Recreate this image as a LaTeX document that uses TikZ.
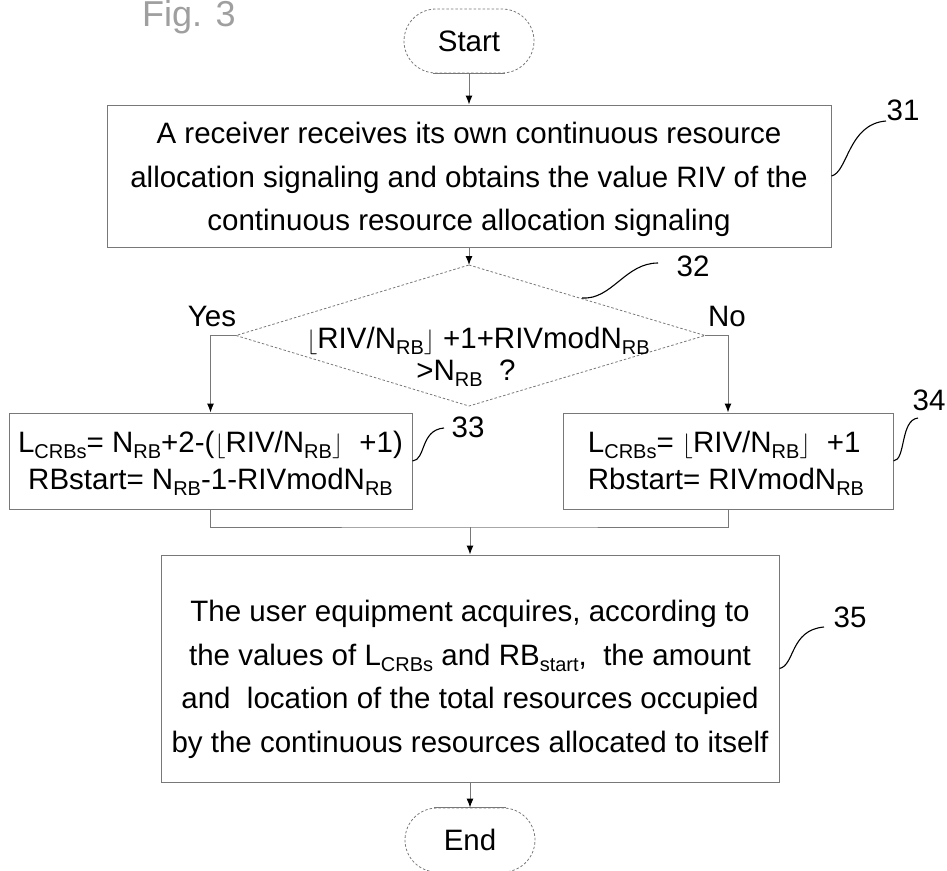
\documentclass[tikz,border=0pt]{standalone}
\usepackage{fontspec}
\setmainfont{Liberation Sans}
\usetikzlibrary{arrows.meta,shapes.misc}
\definecolor{ln}{RGB}{120,120,120}
\newcommand{\sbx}[1]{\raisebox{-0.22em}{\fontsize{20}{20}\selectfont #1}}
\newcommand{\flo}{\(\lfloor\)}
\newcommand{\flc}{\(\rfloor\)}
\begin{document}
\begin{tikzpicture}[x=1pt,y=-1pt,
  box/.style={draw=ln,line width=1pt,inner sep=0pt},
  txt/.style={font=\fontsize{29.5}{43.5}\selectfont,align=center,inner sep=0pt},
  txtb/.style={font=\fontsize{29.5}{37}\selectfont,align=center,inner sep=0pt},
  lbl/.style={font=\fontsize{29.5}{34}\selectfont,inner sep=0pt},
  conn/.style={draw=ln,line width=1pt},
  arr/.style={conn,-{Latex[length=9pt,width=7pt,color=black]}},
  term/.style={rounded rectangle,draw=ln,dash pattern=on 2.5pt off 2pt,line width=0.8pt,minimum width=130pt,minimum height=64pt,inner sep=0pt,font=\fontsize{29.5}{34}\selectfont},
  squig/.style={draw=black,line width=1.1pt}]
\useasboundingbox (0,0) rectangle (947,870);

% title
\node[font=\fontsize{36}{36}\selectfont,text=gray!75,anchor=base west,inner sep=0pt] (fig) at (142,27) {Fig. 3};

% terminals
\node[term] (start) at (469,41) {Start};
\node[term] (end) at (470,840) {End};
\draw[ln,line width=0.9pt] ([xshift=-36pt]start.south) -- ([xshift=36pt]start.south);
\draw[ln,line width=0.9pt] ([xshift=-36pt]end.north) -- ([xshift=36pt]end.north);

% box 31
\node[box,minimum width=724pt,minimum height=142pt] (b31) at (469,176) {};
\node[txt] (t31) at (469,179.5) {A receiver receives its own continuous resource\\allocation signaling and obtains the value RIV of the\\continuous resource allocation signaling};

% decision 32
\coordinate (dT) at (469,265);
\coordinate (dL) at (236,335.5);
\coordinate (dR) at (705,335.5);
\coordinate (dB) at (469,406);
\draw[ln,line width=0.8pt,dash pattern=on 2.5pt off 2pt] (dT) -- (dR) -- (dB) -- (dL) -- cycle;
\node[txt,anchor=base] (dt1) at (478,348) {\flo RIV/N\sbx{RB}\flc\ +1+RIVmodN\sbx{RB}};
\node[txt,anchor=base] (dt2) at (466,380) {>N\sbx{RB}\ \ ?};

% boxes 33, 34
\node[box,minimum width=403pt,minimum height=96pt] (b33) at (210.5,461) {};
\node[txtb] (t33) at (210.5,463.5) {L\sbx{CRBs}= N\sbx{RB}+2-(\flo RIV/N\sbx{RB}\flc\ \ +1)\\RBstart= N\sbx{RB}-1-RIVmodN\sbx{RB}};
\node[box,minimum width=330pt,minimum height=96pt] (b34) at (728,461) {};
\node[txtb,align=left] (t34) at (726,463.5) {L\sbx{CRBs}= \flo RIV/N\sbx{RB}\flc\ \ +1\\Rbstart= RIVmodN\sbx{RB}};

% box 35
\node[box,minimum width=618pt,minimum height=227pt] (b35) at (470,668.5) {};
\node[txt] (t35) at (470,679.5) {The user equipment acquires, according to\\the values of L\sbx{CRBs} and RB\sbx{start},\ \ the amount\\and\ \ location of the total resources occupied\\by the continuous resources allocated to itself};

% yes / no
\node[lbl,anchor=base] (yes) at (212,326) {Yes};
\node[lbl,anchor=base] (no) at (727,326) {No};

% connectors
\coordinate (m) at (470,527);
\draw[arr] (start.south) -- (b31.north);
\draw[arr] (b31.south) -- (dT);
\draw[arr] (dL) -| (b33.north);
\draw[arr] (dR) -| (b34.north);
\draw[conn] (b33.south) |- (m) -| (b34.south);
\draw[arr] (m) -- (b35.north);
\draw[arr] (b35.south) -- (end.north);

% reference labels
\node[lbl] (l31) at (903,110) {31};
\node[lbl] (l32) at (693,266) {32};
\node[lbl] (l33) at (468,427) {33};
\node[lbl] (l34) at (929,400) {34};
\node[lbl] (l35) at (850,617) {35};
\coordinate (s31) at (886,121);
\coordinate (s32a) at (582,298);
\coordinate (s32) at (658,263);
\coordinate (s33) at (444,428);
\coordinate (s34) at (918,418);
\coordinate (s35) at (824,627);
\draw[squig] (b31.east) .. controls (848,172) and (848,124) .. (s31);
\draw[squig] (s32a) .. controls (612,300) and (625,263) .. (s32);
\draw[squig] (b33.east) .. controls (426,460) and (420,430) .. (s33);
\draw[squig] (b34.east) .. controls (906,460) and (900,420) .. (s34);
\draw[squig] (b35.east) .. controls (795,665) and (790,630) .. (s35);
\end{tikzpicture}
\end{document}
